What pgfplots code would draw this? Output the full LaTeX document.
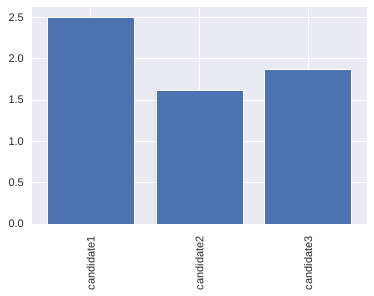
\documentclass[border=0pt]{standalone}
\usepackage{fontspec}
\setmainfont{Liberation Sans}
\usepackage{pgfplots}
\pgfplotsset{compat=1.18}
\definecolor{sbblue}{HTML}{4C72B0}
\definecolor{sbbg}{HTML}{EAEAF2}
\definecolor{sbtext}{HTML}{262626}
\begin{document}
\begin{tikzpicture}[x=1pt,y=1pt]
\path[use as bounding box] (0,0) rectangle (374,295);
\begin{axis}[
  at={(32pt,71pt)}, anchor=south west,
  scale only axis, width=335pt, height=216.5pt,
  xmin=-0.54, xmax=2.54, ymin=0, ymax=2.62,
  xtick={0,1,2}, xticklabels={candidate1,candidate2,candidate3},
  ytick={0,0.5,1,1.5,2,2.5},
  yticklabel={\pgfmathprintnumber[fixed,precision=1,zerofill]{\tick}},
  /pgf/number format/assume math mode=true,
  axis background/.style={fill=sbbg},
  axis line style={draw=none},
  major tick length=0pt,
  grid=major, major grid style={white, line width=1pt},
  tick label style={font=\fontsize{11}{13}\selectfont, text=sbtext, inner sep=0pt},
  xticklabel style={rotate=90, anchor=east},
  yticklabel style={anchor=east},
  xticklabel shift=12pt, yticklabel shift=8pt,
]
\addplot[ybar, bar width=0.8, bar shift=0pt, fill=sbblue, draw=white, line width=0.8pt]
  coordinates {(0,2.5) (1,1.62) (2,1.87)};
\end{axis}
\end{tikzpicture}
\end{document}
